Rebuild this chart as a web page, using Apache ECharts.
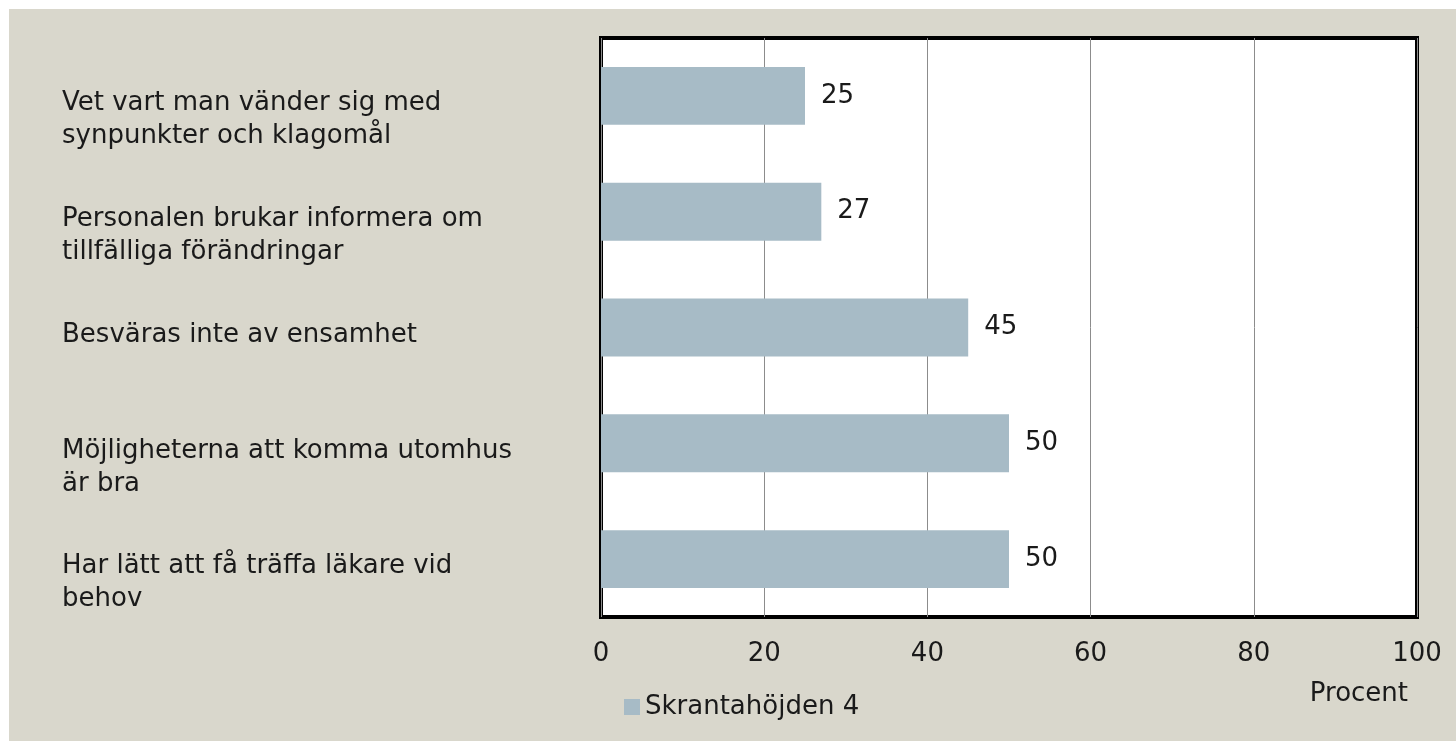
<!DOCTYPE html>
<html>
<head>
<meta charset="utf-8">
<script src="https://cdn.jsdelivr.net/npm/echarts@6/dist/echarts.min.js"></script>
<style>
    html, body { margin: 0; padding: 0; background: #ffffff; }
    #chart { position: absolute; left: 9px; top: 9px; width: 1447px; height: 732px; }
</style>
</head>
<body>
<div id="chart"></div>
<script>
// kategorier (uppifrån och ned) och värden i procent
var categories = [
    'Vet vart man vänder sig med\nsynpunkter och klagomål',
    'Personalen brukar informera om\ntillfälliga förändringar',
    'Besväras inte av ensamhet',
    'Möjligheterna att komma utomhus\när bra',
    'Har lätt att få träffa läkare vid\nbehov'
];
var values = [25, 27, 45, 50, 50];
var seriesName = 'Skrantahöjden 4';
var axisName = 'Procent';

var font = 'DejaVu Sans';
var fs = 26;
var chart = echarts.init(document.getElementById('chart'));

var option = {
    backgroundColor: '#d9d7cc',
    animation: false,
    textStyle: { fontFamily: font },
    legend: {
        left: 615,
        top: 685,
        padding: 0,
        itemWidth: 16,
        itemHeight: 16,
        itemGap: 10,
        icon: 'rect',
        textStyle: { fontSize: fs, color: '#1a1a1a', fontFamily: font },
        data: [seriesName]
    },
    grid: {
        left: 592,
        right: 39,
        top: 29,
        bottom: 124,
        show: true,
        backgroundColor: '#ffffff',
        borderColor: '#000000',
        borderWidth: 4
    },
    xAxis: {
        type: 'value',
        min: 0,
        max: 100,
        interval: 20,
        name: axisName,
        nameLocation: 'end',
        nameGap: -9,
        nameTextStyle: {
            fontSize: fs,
            color: '#1a1a1a',
            align: 'right',
            verticalAlign: 'top',
            padding: [64, 0, 0, 0]
        },
        axisLine: { show: false },
        axisTick: { show: false },
        axisLabel: { fontSize: fs, color: '#1a1a1a', margin: 24 },
        splitLine: { show: true, lineStyle: { color: '#8c8c8c', width: 1 } }
    },
    yAxis: {
        type: 'category',
        inverse: true,
        data: categories,
        axisLine: { show: false },
        axisTick: { show: false },
        axisLabel: {
            fontSize: fs,
            color: '#1a1a1a',
            align: 'left',
            verticalAlign: 'top',
            lineHeight: 33,
            margin: 539,
            padding: [-9, 0, 0, 0]
        }
    },
    series: [
        {
            name: seriesName,
            type: 'bar',
            data: values,
            barCategoryGap: '50%',
            itemStyle: { color: '#a7bbc6' },
            label: {
                show: true,
                position: 'right',
                distance: 16,
                fontSize: fs,
                color: '#1a1a1a',
                fontFamily: font
            }
        }
    ]
};

chart.setOption(option);
</script>
</body>
</html>
